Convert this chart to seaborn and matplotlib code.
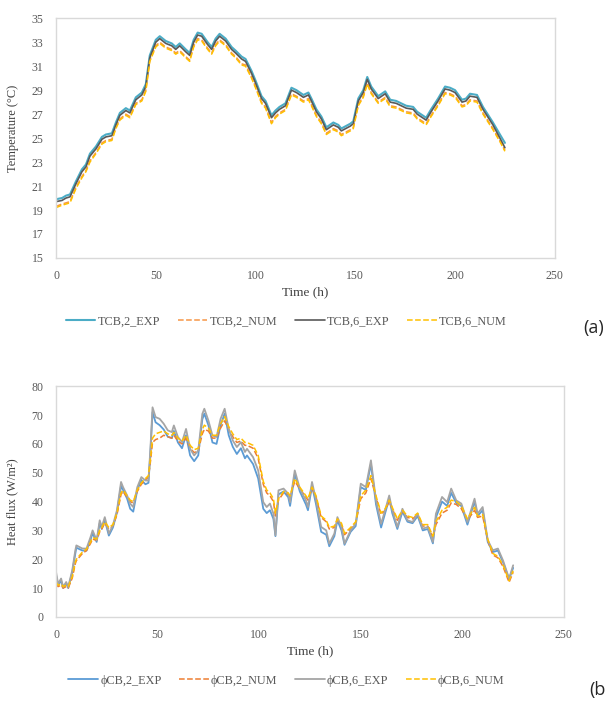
import matplotlib
matplotlib.use("Agg")
import matplotlib.pyplot as plt
import seaborn as sns

# --- (a) temperature data ---
temp_t = [0, 3, 5, 7, 10, 13, 15, 17, 20, 23, 25, 28, 30, 32, 35, 37, 40, 43, 45, 47,
          50, 52, 55, 58, 60, 62, 65, 67, 69, 71, 73, 76, 78, 80, 82, 85, 88, 90, 93, 95,
          98, 100, 103, 105, 108, 110, 112, 115, 118, 120.5, 124, 126.5, 128, 130.5, 133,
          135.5, 139, 141.5, 143, 147.5, 149, 151.5, 154, 156, 158, 161.5, 165, 167.5,
          170.5, 175.5, 179, 181, 185.5, 188, 191.5, 195, 197.5, 200, 203.5, 205.5, 207.5,
          211, 214, 219, 222.5, 225]
temp_exp2 = [19.9, 20.0, 20.2, 20.3, 21.4, 22.4, 22.8, 23.7, 24.3, 25.1, 25.3, 25.4, 26.3,
             27.1, 27.5, 27.3, 28.4, 28.8, 29.5, 31.9, 33.2, 33.5, 33.1, 32.9, 32.6, 32.9,
             32.4, 32.1, 33.2, 33.8, 33.7, 33.0, 32.6, 33.3, 33.7, 33.3, 32.6, 32.3, 31.8,
             31.6, 30.6, 29.8, 28.5, 28.1, 26.9, 27.3, 27.6, 27.9, 29.2, 29.0, 28.6, 28.8,
             28.3, 27.4, 26.8, 25.9, 26.3, 26.1, 25.8, 26.2, 26.4, 28.3, 29.0, 30.1, 29.3,
             28.5, 28.9, 28.2, 28.1, 27.7, 27.6, 27.2, 26.7, 27.4, 28.3, 29.3, 29.2, 29.0,
             28.2, 28.3, 28.7, 28.6, 27.6, 26.3, 25.3, 24.6]
temp_exp6 = [19.7, 19.8, 20.0, 20.1, 21.2, 22.2, 22.6, 23.5, 24.1, 24.9, 25.1, 25.2, 26.1,
             26.9, 27.3, 27.1, 28.2, 28.6, 29.3, 31.7, 33.0, 33.3, 32.9, 32.7, 32.4, 32.7,
             32.2, 31.9, 33.0, 33.6, 33.5, 32.8, 32.4, 33.1, 33.5, 33.1, 32.4, 32.1, 31.6,
             31.4, 30.4, 29.6, 28.3, 27.9, 26.7, 27.1, 27.4, 27.7, 29.0, 28.8, 28.4, 28.6,
             28.1, 27.2, 26.6, 25.7, 26.1, 25.9, 25.6, 26.0, 26.2, 28.1, 28.8, 29.9, 29.1,
             28.3, 28.7, 28.0, 27.9, 27.5, 27.4, 27.0, 26.5, 27.2, 28.1, 29.1, 29.0, 28.8,
             28.0, 28.1, 28.5, 28.4, 27.4, 26.1, 25.0, 24.2]
temp_num2 = [19.3, 19.5, 19.6, 19.7, 20.9, 21.8, 22.3, 23.1, 23.8, 24.6, 24.8, 24.9, 25.9,
             26.6, 27.0, 26.8, 27.9, 28.2, 29.0, 31.5, 32.7, 33.0, 32.6, 32.4, 32.1, 32.3,
             31.8, 31.5, 32.7, 33.3, 33.2, 32.5, 32.1, 32.8, 33.2, 32.8, 32.1, 31.8, 31.2,
             31.1, 30.1, 29.3, 28.0, 27.6, 26.3, 26.8, 27.1, 27.4, 28.7, 28.5, 28.1, 28.3,
             27.8, 26.9, 26.3, 25.4, 25.8, 25.6, 25.3, 25.7, 25.9, 27.8, 28.5, 29.6, 28.8,
             28.0, 28.4, 27.7, 27.6, 27.2, 27.1, 26.7, 26.2, 26.9, 27.8, 28.8, 28.7, 28.5,
             27.7, 27.8, 28.2, 28.1, 27.1, 25.8, 24.8, 24.0]
temp_num6 = [19.2, 19.4, 19.5, 19.6, 20.8, 21.7, 22.2, 23.0, 23.7, 24.5, 24.7, 24.8, 25.8,
             26.5, 26.9, 26.7, 27.8, 28.1, 28.9, 31.4, 32.6, 32.9, 32.5, 32.3, 32.0, 32.2,
             31.7, 31.4, 32.6, 33.2, 33.1, 32.4, 32.0, 32.7, 33.1, 32.7, 32.0, 31.7, 31.1,
             31.0, 30.0, 29.2, 27.9, 27.5, 26.2, 26.7, 27.0, 27.3, 28.6, 28.4, 28.0, 28.2,
             27.7, 26.8, 26.2, 25.3, 25.7, 25.5, 25.2, 25.6, 25.8, 27.7, 28.4, 29.5, 28.7,
             27.9, 28.3, 27.6, 27.5, 27.1, 27.0, 26.6, 26.1, 26.8, 27.7, 28.7, 28.6, 28.4,
             27.6, 27.7, 28.1, 28.0, 27.0, 25.7, 24.7, 23.9]

# --- (b) heat flux data ---
flux_t = [0, 1, 2.5, 3.5, 5, 6, 8, 9.5, 10, 13, 15, 17, 18, 20, 21.5, 22.5, 24, 26, 28, 30,
          32, 33, 35, 36.5, 38, 40, 42, 44, 45.5, 46.5, 47.5, 49, 51, 53, 55, 57, 58, 60,
          62, 64, 66, 68, 70, 72, 73, 75, 77, 79, 81, 83, 85, 87, 89, 91, 93, 94, 97, 99.5,
          102, 103.7, 105.3, 107, 108, 109.5, 112, 114.3, 115.2, 117.5, 120, 123, 124, 126,
          128, 130.5, 133, 134.5, 137, 138.5, 140.5, 142, 145, 147.5, 150, 152.5, 155,
          157.5, 160, 162, 164, 165.5, 168, 170.5, 173, 175.5, 178, 180.5, 183, 185.5, 187,
          190, 192.5, 194.5, 197, 199.5, 202.5, 206, 207.5, 210, 212.5, 215, 217.5, 220,
          223, 225]
flux_exp6 = [15.6, 11.5, 13.3, 10.4, 12.1, 10.4, 16.2, 23.1, 24.8, 23.7, 23.7, 27.7, 30.0,
             26.6, 33.5, 31.2, 34.6, 28.9, 31.8, 37.0, 46.8, 45.0, 42.1, 39.3, 38.1, 45.0,
             48.5, 47.3, 47.3, 58.9, 72.7, 69.3, 68.7, 67.0, 64.7, 64.1, 66.4, 62.4, 60.6,
             65.2, 58.3, 56.0, 57.7, 70.4, 72.2, 68.1, 62.9, 62.4, 68.7, 72.2, 65.2, 61.2,
             58.9, 60.6, 57.2, 58.3, 55.4, 50.8, 39.8, 38.1, 39.3, 35.8, 28.3, 43.9, 44.5,
             42.7, 39.8, 50.8, 44.5, 40.4, 38.1, 46.8, 40.4, 31.2, 30.0, 25.4, 28.9, 34.6,
             31.2, 25.4, 30.0, 32.3, 46.2, 45.0, 54.3, 40.4, 32.3, 37.0, 42.1, 37.0, 31.2,
             37.5, 33.5, 32.9, 35.8, 30.6, 31.2, 26.0, 35.8, 41.6, 39.8, 44.5, 40.4, 39.3,
             32.9, 41.0, 35.8, 38.1, 26.6, 23.1, 23.7, 19.6, 13.3, 17.9]
flux_exp2 = [14.5, 11.0, 12.5, 10.0, 11.6, 10.0, 15.5, 22.0, 24.0, 23.0, 23.0, 26.8, 29.0,
             26.0, 32.5, 30.5, 33.6, 28.2, 31.0, 36.2, 45.5, 44.0, 41.0, 37.5, 36.5, 44.0,
             47.5, 46.0, 46.5, 57.5, 71.0, 67.5, 66.5, 65.0, 62.5, 62.0, 64.5, 60.5, 58.5,
             63.0, 56.0, 54.0, 56.0, 68.5, 70.5, 66.5, 60.5, 60.0, 66.5, 70.5, 63.0, 59.0,
             56.5, 58.5, 55.0, 56.0, 53.0, 48.0, 37.5, 36.0, 37.0, 34.0, 28.0, 42.5, 43.5,
             41.5, 38.5, 49.5, 43.5, 39.0, 37.0, 45.5, 39.0, 29.5, 28.5, 24.5, 28.0, 33.5,
             30.0, 25.0, 29.5, 31.5, 45.0, 44.0, 53.0, 39.0, 31.0, 36.0, 41.0, 36.0, 30.5,
             36.5, 33.0, 32.5, 35.0, 30.0, 30.5, 25.5, 34.5, 40.0, 38.5, 43.0, 39.5, 38.5,
             32.0, 40.0, 35.0, 37.0, 26.0, 22.5, 23.0, 19.0, 13.0, 17.0]
flux_num6 = [12.0, 11.0, 11.5, 10.5, 11.0, 10.5, 14.0, 19.0, 20.0, 22.5, 23.5, 26.0, 27.5,
             27.0, 30.0, 31.0, 33.0, 31.0, 32.0, 36.0, 43.0, 44.0, 42.0, 40.5, 40.0, 44.0,
             46.5, 48.0, 49.0, 55.0, 62.0, 63.5, 64.0, 64.5, 63.5, 63.0, 64.0, 62.0, 61.0,
             63.0, 59.5, 58.0, 58.5, 65.0, 66.5, 65.5, 63.0, 63.0, 67.0, 69.5, 66.0, 63.5,
             61.5, 62.0, 60.5, 60.5, 59.5, 56.0, 47.0, 44.0, 43.0, 41.0, 36.0, 41.0, 43.5,
             43.0, 42.0, 48.0, 45.0, 42.0, 41.0, 45.0, 42.0, 35.0, 33.5, 31.0, 31.5, 34.0,
             32.5, 29.0, 31.0, 33.0, 42.0, 44.0, 49.0, 42.0, 36.0, 37.5, 40.5, 38.0, 34.0,
             37.0, 35.0, 34.5, 36.0, 32.0, 32.0, 28.0, 33.0, 37.0, 38.0, 40.5, 40.0, 38.5,
             34.0, 38.0, 35.0, 35.5, 27.0, 22.0, 21.0, 18.0, 12.5, 16.0]
flux_num2 = [11.5, 10.5, 11.0, 10.0, 10.5, 10.0, 13.5, 18.5, 19.5, 22.0, 23.0, 25.5, 27.0,
             26.5, 29.5, 30.5, 32.5, 30.5, 31.5, 35.5, 42.5, 43.5, 41.5, 40.0, 39.5, 43.5,
             46.0, 47.5, 48.5, 54.0, 60.5, 61.5, 62.0, 63.0, 62.5, 62.0, 63.0, 61.0, 60.0,
             62.0, 58.5, 57.0, 57.5, 63.5, 65.0, 64.5, 62.0, 62.0, 65.5, 68.0, 65.0, 62.5,
             60.5, 61.0, 59.5, 59.5, 58.5, 55.0, 46.0, 43.0, 42.0, 40.0, 35.0, 40.5, 43.0,
             42.5, 41.5, 47.0, 44.5, 41.5, 40.5, 44.5, 41.5, 34.5, 33.0, 30.5, 31.0, 33.5,
             32.0, 28.5, 30.5, 32.5, 41.0, 43.0, 48.0, 41.5, 35.5, 37.0, 40.0, 37.5, 33.5,
             36.5, 34.5, 34.0, 35.5, 31.5, 31.5, 27.5, 32.0, 36.0, 37.0, 39.5, 39.0, 37.5,
             33.5, 37.0, 34.5, 35.0, 26.5, 21.5, 20.5, 17.5, 12.0, 15.5]

temp_labels = ["TCB,2_EXP", "TCB,2_NUM", "TCB,6_EXP", "TCB,6_NUM"]
flux_labels = ["\u03d5CB,2_EXP", "\u03d5CB,2_NUM", "\u03d5CB,6_EXP", "\u03d5CB,6_NUM"]

sns.set_style("white")
plt.rcParams["font.family"] = ["Liberation Serif", "DejaVu Serif"]
gray_txt = "#595959"
edge = "#d9d9d9"

fig = plt.figure(figsize=(6.09, 7.01), dpi=100)
ax1 = fig.add_axes([0.092, 0.632, 0.819, 0.342])
ax2 = fig.add_axes([0.092, 0.120, 0.834, 0.329])

# top chart
sns.lineplot(x=temp_t, y=temp_exp2, ax=ax1, color="#4bacc6", lw=1.5, label=temp_labels[0])
sns.lineplot(x=temp_t, y=temp_num2, ax=ax1, color="#f79646", lw=1.1, linestyle="--",
             label=temp_labels[1])
sns.lineplot(x=temp_t, y=temp_exp6, ax=ax1, color="#595959", lw=1.2, label=temp_labels[2])
sns.lineplot(x=temp_t, y=temp_num6, ax=ax1, color="#ffc000", lw=1.1, linestyle="--",
             label=temp_labels[3])
ax1.set_xlim(0, 250)
ax1.set_ylim(15, 35)
ax1.set_yticks(range(15, 36, 2))
ax1.set_xticks(range(0, 251, 50))
ax1.set_ylabel("Temperature (°C)", fontsize=9, color="#404040")
ax1.set_xlabel("Time (h)", fontsize=9.5, color="#404040", labelpad=3)
ax1.yaxis.set_label_coords(-0.075, 0.54)

# bottom chart
sns.lineplot(x=flux_t, y=flux_exp2, ax=ax2, color="#5b9bd5", lw=1.3, label=flux_labels[0])
sns.lineplot(x=flux_t, y=flux_num2, ax=ax2, color="#ed7d31", lw=1.1, linestyle="--",
             label=flux_labels[1])
sns.lineplot(x=flux_t, y=flux_exp6, ax=ax2, color="#a5a5a5", lw=1.3, label=flux_labels[2])
sns.lineplot(x=flux_t, y=flux_num6, ax=ax2, color="#ffc000", lw=1.1, linestyle="--",
             label=flux_labels[3])
ax2.set_xlim(0, 250)
ax2.set_ylim(0, 80)
ax2.set_yticks(range(0, 81, 10))
ax2.set_xticks(range(0, 251, 50))
ax2.set_ylabel("Heat flux (W/m²)", fontsize=9, color="#404040")
ax2.set_xlabel("Time (h)", fontsize=9.5, color="#404040", labelpad=3)
ax2.yaxis.set_label_coords(-0.075, 0.5)

for ax in (ax1, ax2):
    for s in ax.spines.values():
        s.set_color(edge)
        s.set_linewidth(1.0)
    ax.tick_params(length=0, labelsize=8.5, labelcolor=gray_txt, pad=9)
    ax.get_legend().remove()

leg_kw = dict(loc="center", ncol=4, frameon=False, fontsize=8.8, labelcolor=gray_txt,
              handlelength=2.45, columnspacing=1.4, handletextpad=0.2)
h1, l1 = ax1.get_legend_handles_labels()
fig.legend(h1, l1, bbox_to_anchor=(0.47, 0.541), **leg_kw)
h2, l2 = ax2.get_legend_handles_labels()
fig.legend(h2, l2, bbox_to_anchor=(0.47, 0.029), **leg_kw)

fig.text(0.958, 0.532, "(a)", fontsize=13, family="Open Sans", ha="left", va="center")
fig.text(0.968, 0.016, "(b", fontsize=13, family="Open Sans", ha="left", va="center")

fig.savefig("out.png", dpi=100)
